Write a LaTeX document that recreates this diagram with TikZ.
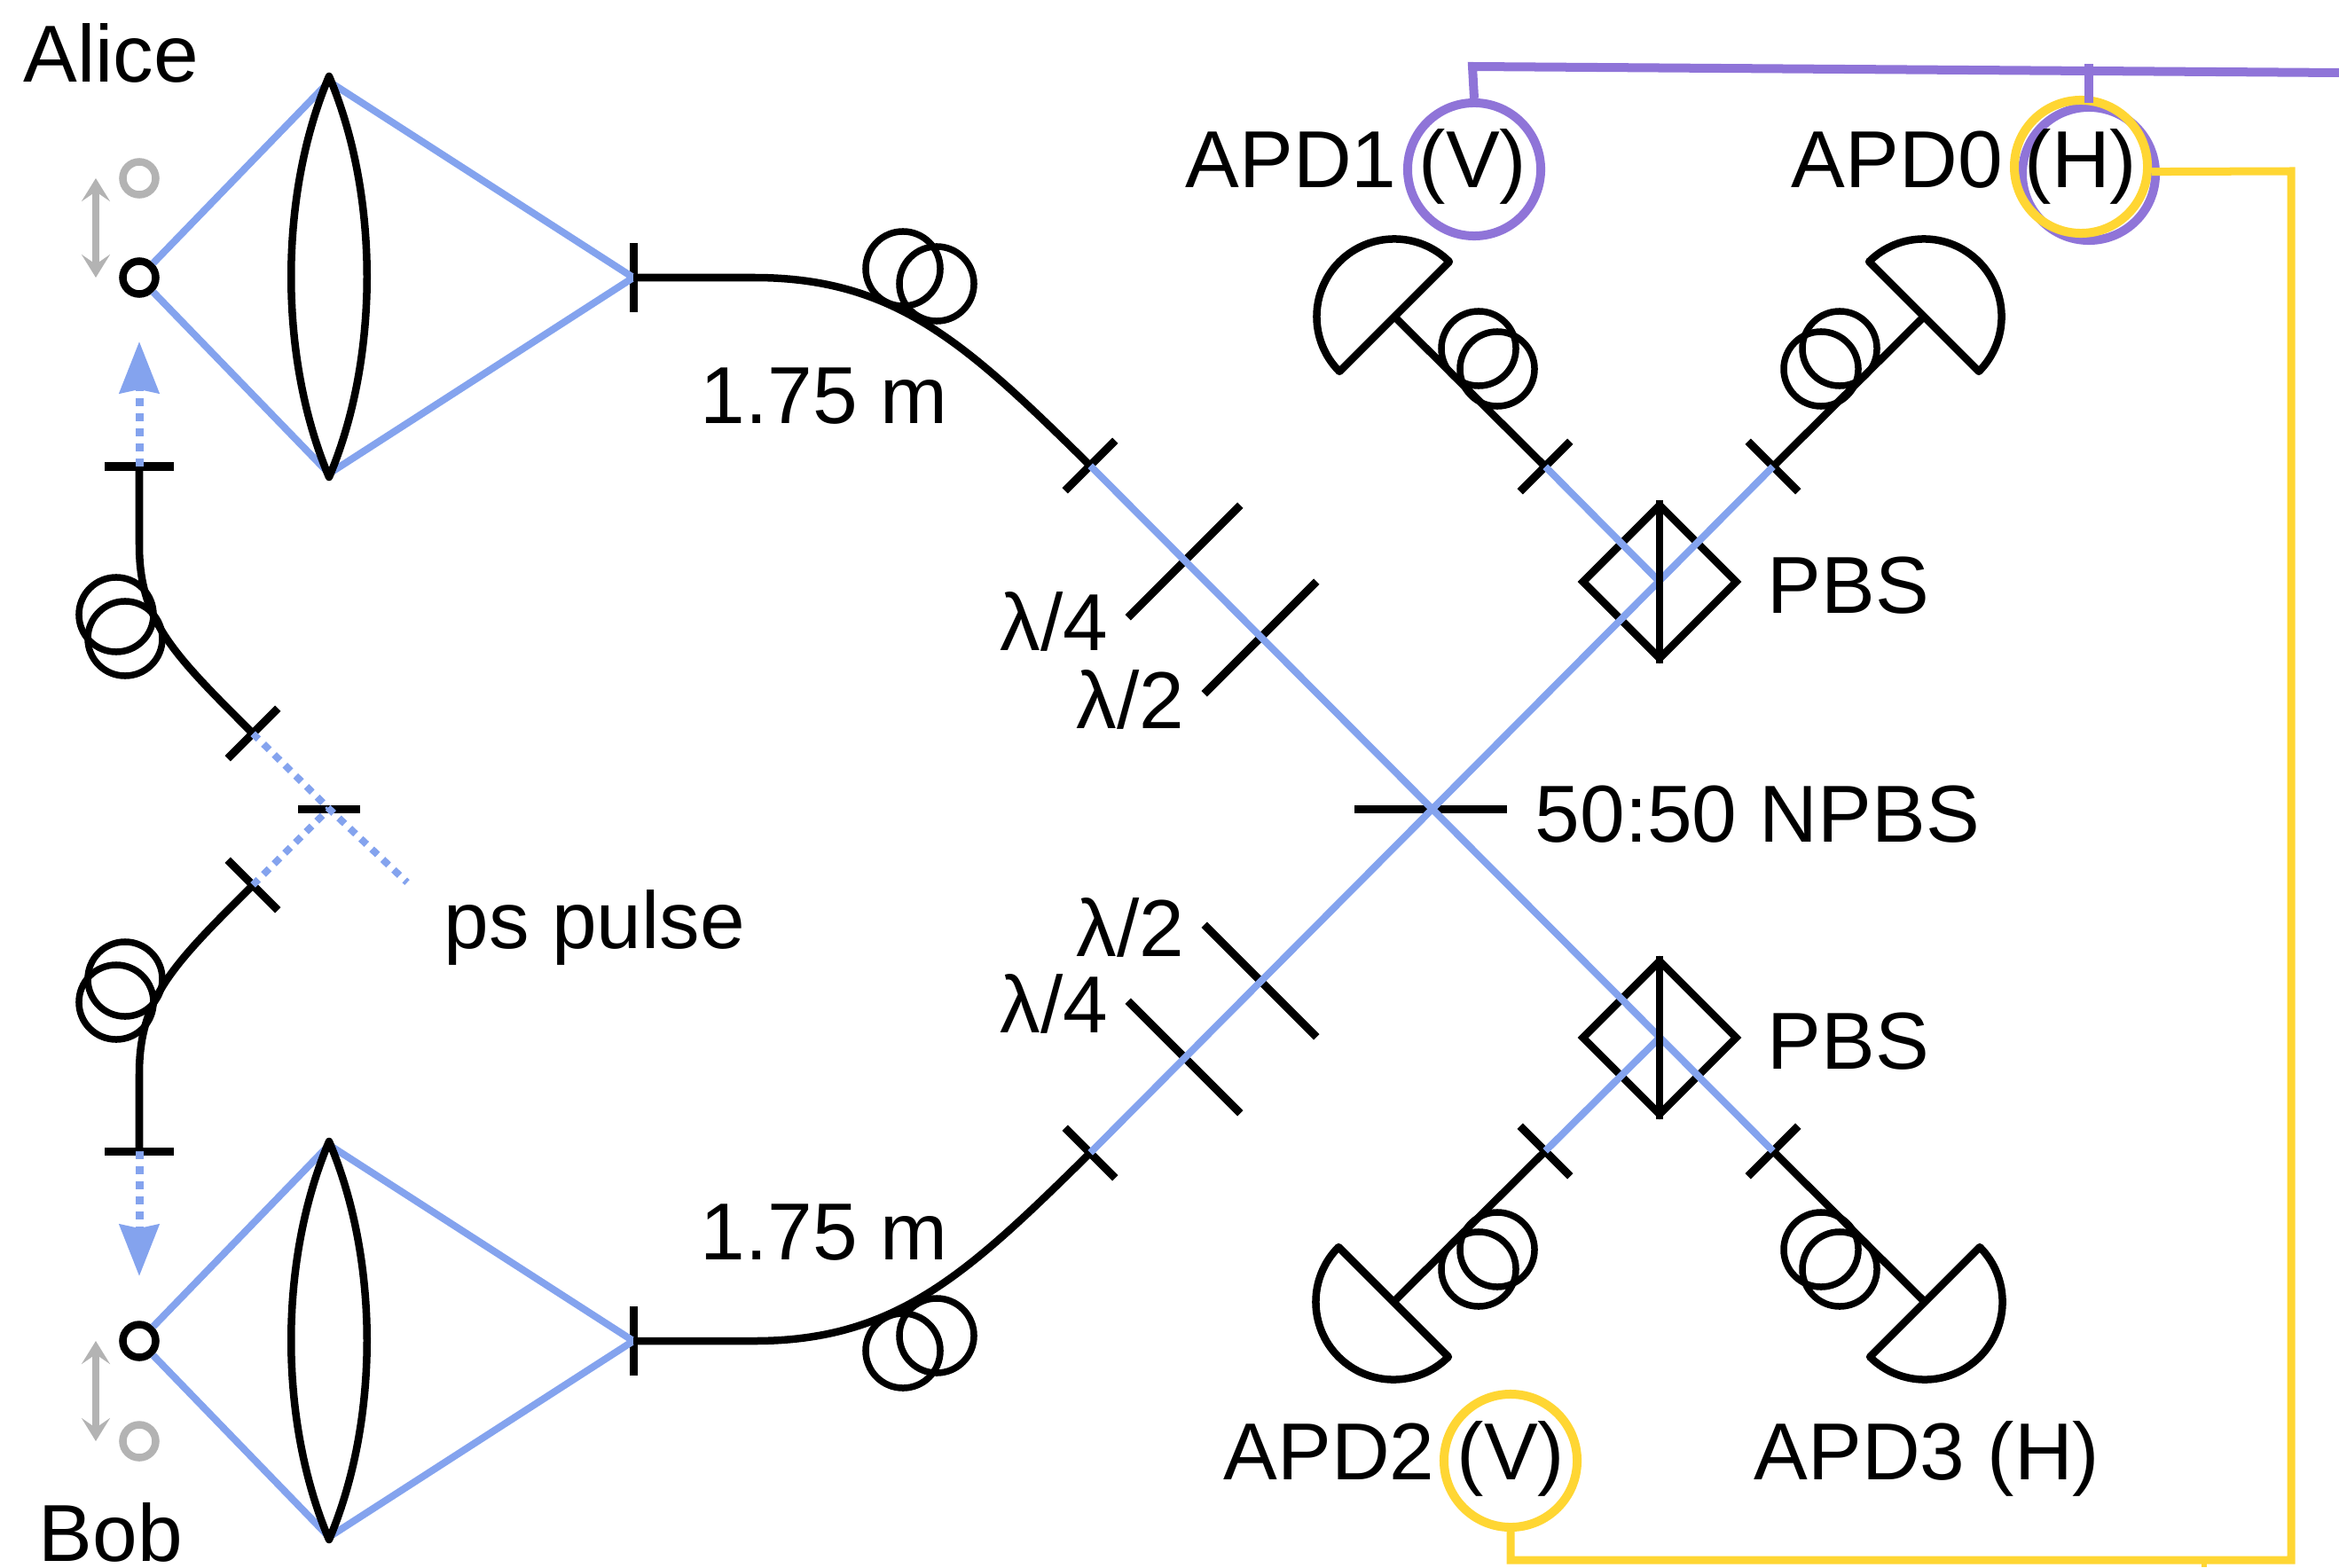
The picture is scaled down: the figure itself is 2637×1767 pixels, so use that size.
\documentclass[tikz,border=0pt]{standalone}
\usepackage{fontspec}
\setmainfont{Liberation Sans}
\usetikzlibrary{arrows.meta,shapes.geometric}
\definecolor{beamblue}{HTML}{84A3EE}
\definecolor{wirepurple}{HTML}{8F74D8}
\definecolor{wireyellow}{HTML}{FFD633}
\definecolor{stagegray}{HTML}{B3B3B3}
\tikzset{
	labeltext/.style={anchor=base west, inner sep=0pt, font=\fontsize{25.9}{30}\selectfont},
	fiber/.style={line width=0.085cm, line join=round},
	beam/.style={line width=0.08cm, beamblue},
	pulse/.style={line width=0.09cm, beamblue, dash pattern=on 0.09cm off 0.08cm},
	fibertick/.style={fill=black, inner sep=0pt, minimum height=0.09cm, minimum width=#1},
	paddle/.style={draw, circle, line width=0.075cm, inner sep=0pt, minimum size=0.84cm},
	pbscube/.style={draw, diamond, aspect=1, line width=0.085cm, inner sep=0pt, minimum width=1.76cm, minimum height=1.76cm},
	tipdot/.style={draw, circle, line width=0.085cm, inner sep=0pt, minimum size=0.37cm},
	ring/.style={draw, circle, line width=0.1cm, inner sep=0pt, minimum size=1.5cm}
}
\begin{document}
\begin{tikzpicture}[x=0.01cm, y=-0.01cm]
%		    \draw[help lines] (0,0) grid (2637,1767);
			\useasboundingbox (0,0) rectangle (2637,1767);
			\coordinate (lensAtop) at (371,92);
			\coordinate (lensAbot) at (371,534);
			\coordinate (lensBtop) at (371,1291);
			\coordinate (lensBbot) at (371,1733);
			\coordinate (grayAend) at (108,201);
			\coordinate (grayAstart) at (108,313);
			\coordinate (grayBstart) at (108,1512);
			\coordinate (grayBend) at (108,1625);
			\coordinate (pulseAtip) at (157,385);
			\coordinate (pulseBtip) at (157,1439);
			\coordinate (pulseEnd) at (459,995);
			\coordinate (detOne) at (1572,357);
			\coordinate (detZero) at (2169,357);
			\coordinate (detTwo) at (1571,1468);
			\coordinate (detThree) at (2170,1468);
			\coordinate (purpleCorner) at (1660,75);
			\coordinate (purpleJoin) at (2355,72);
			\coordinate (purpleEnd) at (2637,82);
			\coordinate (yellowTop) at (2583,193);
			\coordinate (yellowBottom) at (2583,1759);
			\coordinate (yellowStub) at (2485,1759);
			\coordinate (yellowStubEnd) at (2485,1767);
			\node[fibertick=0.78cm, rotate=90] (portA) at (714,313) {};
			\node[fibertick=0.78cm, rotate=90] (portB) at (714,1512) {};
			\node[fibertick=0.78cm] (pulseA) at (157,526) {};
			\node[fibertick=0.78cm] (pulseB) at (157,1298) {};
			\node[fibertick=0.7cm] (splitter) at (371,912) {};
			\node[fibertick=0.8cm, rotate=45] (inA) at (285,827) {};
			\node[fibertick=0.8cm, rotate=-45] (inB) at (285,998) {};
			\node[fibertick=0.8cm, rotate=45] (outA) at (1229,525) {};
			\node[fibertick=0.8cm, rotate=-45] (outB) at (1229,1300) {};
			\node[fibertick=1.79cm, rotate=45] (quarterA) at (1335,633) {};
			\node[fibertick=1.79cm, rotate=45] (halfA) at (1421,719) {};
			\node[fibertick=1.79cm, rotate=-45] (halfB) at (1421,1106) {};
			\node[fibertick=1.79cm, rotate=-45] (quarterB) at (1335,1192) {};
			\node[fibertick=1.72cm] (npbs) at (1613,912) {};
			\node[fibertick=0.8cm, rotate=45] (apdOneIn) at (1742,526) {};
			\node[fibertick=0.8cm, rotate=-45] (apdZeroIn) at (1999,526) {};
			\node[fibertick=0.8cm, rotate=-45] (apdTwoIn) at (1742,1298) {};
			\node[fibertick=0.8cm, rotate=45] (apdThreeIn) at (1999,1298) {};
			\node[pbscube] (pbsU) at (1871,656) {};
			\node[pbscube] (pbsL) at (1871,1170) {};
			\node[tipdot] (tipA) at (157,313) {};
			\node[tipdot] (tipB) at (157,1512) {};
			\node[tipdot, draw=stagegray] (tipAup) at (157,201) {};
			\node[tipdot, draw=stagegray] (tipBdown) at (157,1625) {};
			\node[paddle] (padA1) at (1018,303) {};
			\node[paddle] (padA2) at (1056,320) {};
			\node[paddle] (padB1) at (1018,1523) {};
			\node[paddle] (padB2) at (1056,1506) {};
			\node[paddle] (padC1) at (131,693) {};
			\node[paddle] (padC2) at (141,720) {};
			\node[paddle] (padD1) at (141,1104) {};
			\node[paddle] (padD2) at (131,1130) {};
			\node[paddle] (padE1) at (1667,393) {};
			\node[paddle] (padE2) at (1688,416) {};
			\node[paddle] (padF1) at (2074,393) {};
			\node[paddle] (padF2) at (2053,416) {};
			\node[paddle] (padG1) at (1688,1409) {};
			\node[paddle] (padG2) at (1667,1431) {};
			\node[paddle] (padH1) at (2053,1409) {};
			\node[paddle] (padH2) at (2074,1431) {};
			\node[ring, draw=wirepurple] (ringOne) at (1662,191) {};
			\node[ring, draw=wirepurple] (ringZero) at (2355,196) {};
			\node[ring, draw=wireyellow] (ringZeroY) at (2346,188) {};
			\node[ring, draw=wireyellow] (ringTwo) at (1703,1647) {};
			\node[labeltext] (alice) at (26,93) {Alice};
			\node[labeltext] (bob) at (43,1760) {Bob};
			\node[labeltext] (apdOne) at (1336,212) {APD1 (V)};
			\node[labeltext] (apdZero) at (2019,212) {APD0 (H)};
			\node[labeltext] (apdTwo) at (1379,1668) {APD2 (V)};
			\node[labeltext] (apdThree) at (1977,1668) {APD3 (H)};
			\node[labeltext] (pbsUlabel) at (1992,691) {PBS};
			\node[labeltext] (pbsLlabel) at (1992,1205) {PBS};
			\node[labeltext] (npbslabel) at (1730,949) {50:50 NPBS};
			\node[labeltext] (pulselabel) at (500,1069) {ps pulse};
			\node[labeltext] (lengthA) at (789,478) {1.75 m};
			\node[labeltext] (lengthB) at (789,1420) {1.75 m};
			\node[labeltext] (quarterAlabel) at (1127,733) {λ/4};
			\node[labeltext] (halfAlabel) at (1213,821) {λ/2};
			\node[labeltext] (halfBlabel) at (1213,1078) {λ/2};
			\node[labeltext] (quarterBlabel) at (1127,1164) {λ/4};
			\draw[beam] (tipA) -- (lensAtop) -- (portA.center) -- (lensAbot) -- (tipA);
			\draw[beam] (tipB) -- (lensBtop) -- (portB.center) -- (lensBbot) -- (tipB);
			\draw[beam] (outA.center) -- (apdThreeIn.center);
			\draw[beam] (outB.center) -- (apdZeroIn.center);
			\draw[beam] (pbsU.center) -- (apdOneIn.center);
			\draw[beam] (pbsL.center) -- (apdTwoIn.center);
			\draw[pulse, -{Stealth[length=0.58cm, width=0.44cm, inset=0.04cm]}] (pulseA.center) -- (pulseAtip);
			\draw[pulse, -{Stealth[length=0.58cm, width=0.44cm, inset=0.04cm]}] (pulseB.center) -- (pulseBtip);
			\draw[pulse, line width=0.08cm] (inA.center) -- (splitter.center) -- (pulseEnd);
			\draw[pulse, line width=0.08cm] (inB.center) -- (splitter.center);
			\draw[line width=0.08cm, stagegray, {Stealth[length=0.26cm, width=0.32cm, inset=0.11cm]}-{Stealth[length=0.26cm, width=0.32cm, inset=0.11cm]}] (grayAend) -- (grayAstart);
			\draw[line width=0.08cm, stagegray, {Stealth[length=0.26cm, width=0.32cm, inset=0.11cm]}-{Stealth[length=0.26cm, width=0.32cm, inset=0.11cm]}] (grayBstart) -- (grayBend);
			\draw[fiber] (371,86) .. controls (314,220) and (314,404) .. (371,538) .. controls (428,404) and (428,220) .. cycle;
			\draw[fiber] (371,1287) .. controls (314,1421) and (314,1602) .. (371,1736) .. controls (428,1602) and (428,1421) .. cycle;
			\draw[fiber] (portA.center) -- (850,313) .. controls (1010,313) and (1090,388) .. (outA.center);
			\draw[fiber] (portB.center) -- (850,1512) .. controls (1010,1512) and (1090,1437) .. (outB.center);
			\draw[fiber] (pulseA.center) -- (157,614) .. controls (157,700) and (195,737) .. (inA.center);
			\draw[fiber] (pulseB.center) -- (157,1211) .. controls (157,1125) and (195,1088) .. (inB.center);
			\draw[fiber] (apdOneIn.center) -- (detOne);
			\draw[fiber] (apdZeroIn.center) -- (detZero);
			\draw[fiber] (apdTwoIn.center) -- (detTwo);
			\draw[fiber] (apdThreeIn.center) -- (detThree);
			\draw[fiber] (detOne) ++(45:0.875cm) arc[start angle=45, end angle=225, radius=0.875cm] -- cycle;
			\draw[fiber] (detZero) ++(135:0.875cm) arc[start angle=135, end angle=-45, radius=0.875cm] -- cycle;
			\draw[fiber] (detTwo) ++(135:0.875cm) arc[start angle=135, end angle=315, radius=0.875cm] -- cycle;
			\draw[fiber] (detThree) ++(45:0.875cm) arc[start angle=45, end angle=-135, radius=0.875cm] -- cycle;
			\draw[fiber] (pbsU.north) -- (pbsU.south);
			\draw[fiber] (pbsL.north) -- (pbsL.south);
			\draw[line width=0.1cm, wirepurple] (ringOne.north) -- (purpleCorner) -- (purpleEnd);
			\draw[line width=0.1cm, wirepurple] (ringZero.north) -- (purpleJoin);
			\draw[line width=0.09cm, wireyellow] (ringZeroY.-4) -- (yellowTop) -- (yellowBottom) -| (ringTwo.south);
			\draw[line width=0.06cm, wireyellow] (yellowStub) -- (yellowStubEnd);
		\end{tikzpicture}
\end{document}
